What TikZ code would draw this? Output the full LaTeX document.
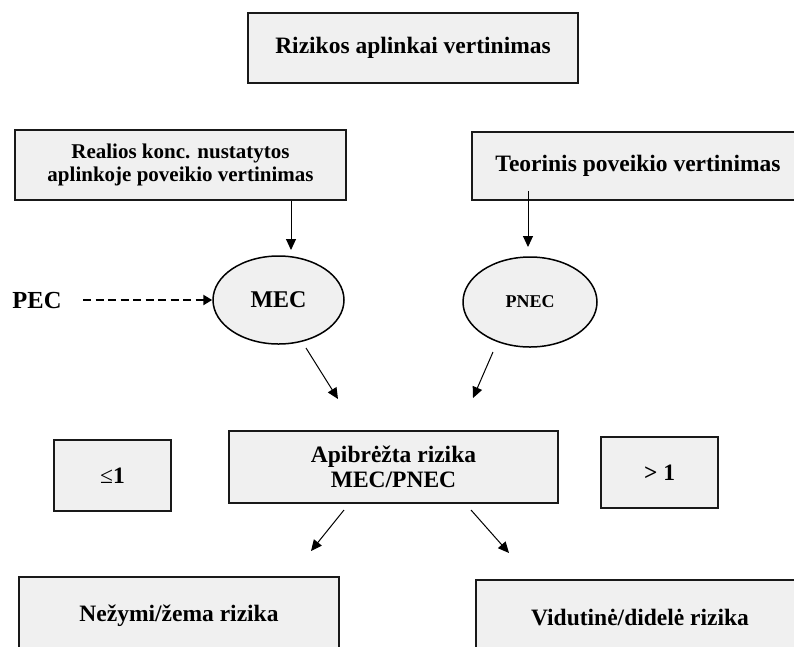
\documentclass[tikz,border=0pt]{standalone}
\usepackage{fontspec}
\setmainfont{Liberation Serif}
\usetikzlibrary{arrows.meta,shapes.geometric}

\definecolor{boxfill}{HTML}{F0F0F0}

\tikzset{
  box/.style={draw=black!90, line width=1.8pt, fill=boxfill, inner sep=0pt,
    align=center, font=\fontsize{23.5}{25}\selectfont\bfseries},
  oval/.style={ellipse, draw=black, line width=1.5pt, fill=boxfill, inner sep=0pt,
    font=\fontsize{24}{25}\selectfont\bfseries},
  arr/.style={line width=1pt, -{Triangle[length=11pt,width=10pt]}},
  dasharr/.style={line width=2.6pt, dash pattern=on 8pt off 4.5pt,
    -{Triangle[length=9pt,width=10pt]}},
}

\begin{document}
\begin{tikzpicture}[x=1pt,y=-1pt]
\useasboundingbox (0,0) rectangle (794,646);

% assessment boxes
\node[box, minimum width=330pt, minimum height=70pt] (top) at (413,48)
  {Rizikos aplinkai vertinimas};
\node[box, minimum width=331pt, minimum height=70pt,
  font=\fontsize{21}{23}\selectfont\bfseries] (real) at (180.5,165)
  {Realios konc. nustatytos\\aplinkoje poveikio vertinimas};
\node[box, minimum width=332pt, minimum height=68pt] (teor) at (638,166)
  {Teorinis poveikio vertinimas};

% concentrations
\node[oval, minimum width=131pt, minimum height=88pt] (mec) at (278.5,300) {MEC};
\node[oval, minimum width=134pt, minimum height=90pt,
  font=\fontsize{18}{20}\selectfont\bfseries] (pnec) at (530,302) {PNEC};
\node[font=\fontsize{24.5}{25}\selectfont\bfseries] (pec) at (37,300) {PEC};

% risk quotient
\node[box, minimum width=329pt, minimum height=72pt] (apib) at (393.5,467)
  {Apibrėžta rizika\\MEC/PNEC};
\node[box, minimum width=117pt, minimum height=71pt] (le) at (112.5,475.5)
  {\textmd{≤}1};
\node[box, minimum width=117pt, minimum height=71pt] (gt) at (659.5,472.5)
  {> 1};

% outcomes
\node[box, minimum width=320pt, minimum height=78pt] (low) at (179,616)
  {Nežymi/žema rizika};
\node[box, minimum width=328pt, minimum height=75pt] (high) at (640,617.5)
  {Vidutinė/didelė rizika};

% connector end points
\coordinate (t1) at (291,250);
\coordinate (t2) at (528,247);
\coordinate (s3) at (306,348);
\coordinate (t3) at (338,399);
\coordinate (s4) at (493,352);
\coordinate (t4) at (473,398);
\coordinate (s5) at (344,510);
\coordinate (t5) at (311,551);
\coordinate (s6) at (471,510);
\coordinate (t6) at (509,553);

% connectors
\draw[arr] (real.south -| t1) -- (t1);
\draw[arr] ([yshift=10pt]teor.south -| t2) -- (t2);
\draw[dasharr] ([xshift=18pt]pec.east) -- (mec.west);
\draw[arr] (s3) -- (t3);
\draw[arr] (s4) -- (t4);
\draw[arr] (s5) -- (t5);
\draw[arr] (s6) -- (t6);
\end{tikzpicture}
\end{document}
